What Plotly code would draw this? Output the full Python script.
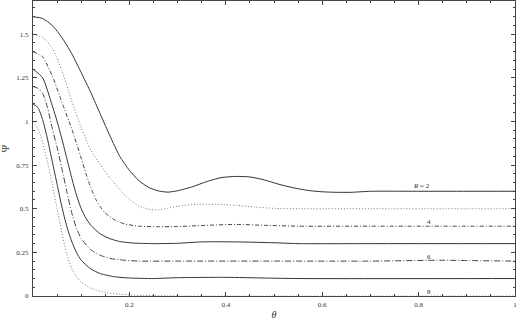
import plotly.graph_objects as go

# ---- data ----
theta_R2 = [0, 0.02, 0.04, 0.06, 0.08, 0.10, 0.12, 0.14, 0.16, 0.18, 0.20, 0.22, 0.24, 0.26, 0.28,
            0.30, 0.33, 0.36, 0.39, 0.42, 0.45, 0.48, 0.51, 0.54, 0.57, 0.60, 0.63, 0.66, 0.70, 0.80, 0.90, 1.0]
psi_R2 = [1.60, 1.59, 1.55, 1.48, 1.39, 1.28, 1.165, 1.04, 0.915, 0.80, 0.72, 0.66, 0.622, 0.602, 0.595,
          0.603, 0.625, 0.655, 0.678, 0.685, 0.682, 0.665, 0.64, 0.62, 0.605, 0.597, 0.594, 0.594, 0.60, 0.60, 0.60, 0.60]

theta_R3 = [0, 0.02, 0.04, 0.06, 0.08, 0.10, 0.12, 0.14, 0.16, 0.18, 0.20, 0.22, 0.24, 0.26, 0.28,
            0.30, 0.34, 0.38, 0.42, 0.46, 0.50, 0.55, 0.70, 1.0]
psi_R3 = [1.50, 1.48, 1.42, 1.29, 1.12, 0.965, 0.835, 0.75, 0.675, 0.61, 0.555, 0.515, 0.497, 0.493, 0.503,
          0.515, 0.525, 0.525, 0.52, 0.51, 0.502, 0.50, 0.50, 0.50]

theta_R4 = [0, 0.02, 0.04, 0.06, 0.08, 0.10, 0.11, 0.12, 0.13, 0.14, 0.15, 0.17, 0.19, 0.22, 0.26,
            0.30, 0.36, 0.42, 0.48, 0.55, 0.70, 1.0]
psi_R4 = [1.40, 1.37, 1.26, 1.11, 0.96, 0.79, 0.70, 0.62, 0.555, 0.51, 0.475, 0.435, 0.413, 0.40, 0.397,
          0.398, 0.405, 0.41, 0.405, 0.40, 0.40, 0.40]

theta_R5 = [0, 0.02, 0.04, 0.05, 0.06, 0.07, 0.08, 0.09, 0.10, 0.11, 0.12, 0.14, 0.16, 0.18, 0.21,
            0.25, 0.30, 0.35, 0.42, 0.50, 0.55, 0.70, 1.0]
psi_R5 = [1.30, 1.25, 1.09, 1.00, 0.90, 0.79, 0.68, 0.58, 0.50, 0.445, 0.405, 0.355, 0.328, 0.312, 0.303,
          0.30, 0.302, 0.31, 0.31, 0.305, 0.30, 0.30, 0.30]

theta_R6 = [0, 0.01, 0.02, 0.03, 0.04, 0.05, 0.06, 0.07, 0.08, 0.09, 0.10, 0.12, 0.14, 0.16, 0.19,
            0.22, 0.30, 0.50, 0.70, 0.85, 0.90, 1.0]
psi_R6 = [1.20, 1.19, 1.16, 1.08, 0.96, 0.85, 0.73, 0.60, 0.48, 0.39, 0.33, 0.265, 0.233, 0.215, 0.205,
          0.20, 0.20, 0.20, 0.20, 0.205, 0.203, 0.20]

theta_R7 = [0, 0.01, 0.02, 0.03, 0.04, 0.05, 0.06, 0.07, 0.08, 0.09, 0.10, 0.12, 0.14, 0.17, 0.20,
            0.25, 0.30, 0.40, 0.48, 0.55, 1.0]
psi_R7 = [1.10, 1.08, 1.01, 0.90, 0.77, 0.64, 0.51, 0.40, 0.315, 0.25, 0.205, 0.155, 0.128, 0.11, 0.103,
          0.10, 0.105, 0.107, 0.103, 0.10, 0.10]

theta_R8 = [0, 0.01, 0.02, 0.03, 0.04, 0.05, 0.06, 0.07, 0.08, 0.09, 0.10, 0.12, 0.15, 0.20, 0.25, 0.30, 1.0]
psi_R8 = [1.00, 0.96, 0.88, 0.77, 0.64, 0.50, 0.36, 0.24, 0.16, 0.11, 0.08, 0.045, 0.02, 0.006, 0.002, 0.0, 0.0]

x_tickvals = [0.2, 0.4, 0.6, 0.8, 1.0]
x_ticktext = ["0.2", "0.4", "0.6", "0.8", "1"]
y_tickvals = [0, 0.25, 0.5, 0.75, 1.0, 1.25, 1.5]
y_ticktext = ["0", "0.25", "0.5", "0.75", "1", "1.25", "1.5"]

series = [
    (theta_R2, psi_R2, "solid", "#333333"),
    (theta_R3, psi_R3, "1px,2px", "#777777"),
    (theta_R4, psi_R4, "4px,2px,1px,2px", "#444444"),
    (theta_R5, psi_R5, "solid", "#333333"),
    (theta_R6, psi_R6, "6px,2px,1px,2px", "#444444"),
    (theta_R7, psi_R7, "solid", "#333333"),
    (theta_R8, psi_R8, "1px,2px", "#777777"),
]

fig = go.Figure()
for th, ps, dash, col in series:
    fig.add_trace(go.Scatter(x=th, y=ps, mode="lines",
                             line=dict(color=col, width=1, dash=dash, shape="spline", smoothing=0.6),
                             showlegend=False, hoverinfo="skip"))

font = dict(family="Liberation Serif, DejaVu Serif, serif", size=7, color="#333333")

labels = [(0.807, 0.63, "<i>R</i> = 2"), (0.822, 0.422, "4"), (0.822, 0.222, "6"), (0.822, 0.025, "8")]
for lx, ly, txt in labels:
    fig.add_annotation(x=lx, y=ly, text=txt, showarrow=False, font=font,
                       xanchor="center", yanchor="middle")

axis_common = dict(showgrid=False, zeroline=False, showline=True, linecolor="#444444", linewidth=1,
                   mirror="allticks", ticks="inside", ticklen=4, tickcolor="#444444", tickwidth=1,
                   tickfont=font, automargin=False)

fig.update_xaxes(range=[0, 1], tickvals=x_tickvals, ticktext=x_ticktext,
                 minor=dict(dtick=0.05, tick0=0, ticks="inside", ticklen=2, tickcolor="#444444"),
                 title=dict(text="<i>θ</i>", font=dict(family="Liberation Serif, serif", size=10, color="#333333"),
                            standoff=2),
                 ticklabelstandoff=2,
                 **axis_common)
fig.update_yaxes(range=[0, 1.69], tickvals=y_tickvals, ticktext=y_ticktext,
                 minor=dict(dtick=0.05, tick0=0, ticks="inside", ticklen=2, tickcolor="#444444"),
                 title=dict(text="Ψ", font=dict(family="Liberation Serif, serif", size=10, color="#333333"),
                            standoff=4),
                 ticklabelstandoff=2,
                 **axis_common)

fig.update_layout(width=522, height=322, margin=dict(l=33, r=7, t=1, b=26),
                  plot_bgcolor="white", paper_bgcolor="white")

fig.write_html("out.html", config={"displayModeBar": False, "staticPlot": True},
               post_script="document.body.style.margin='0px';document.body.style.overflow='hidden';")
